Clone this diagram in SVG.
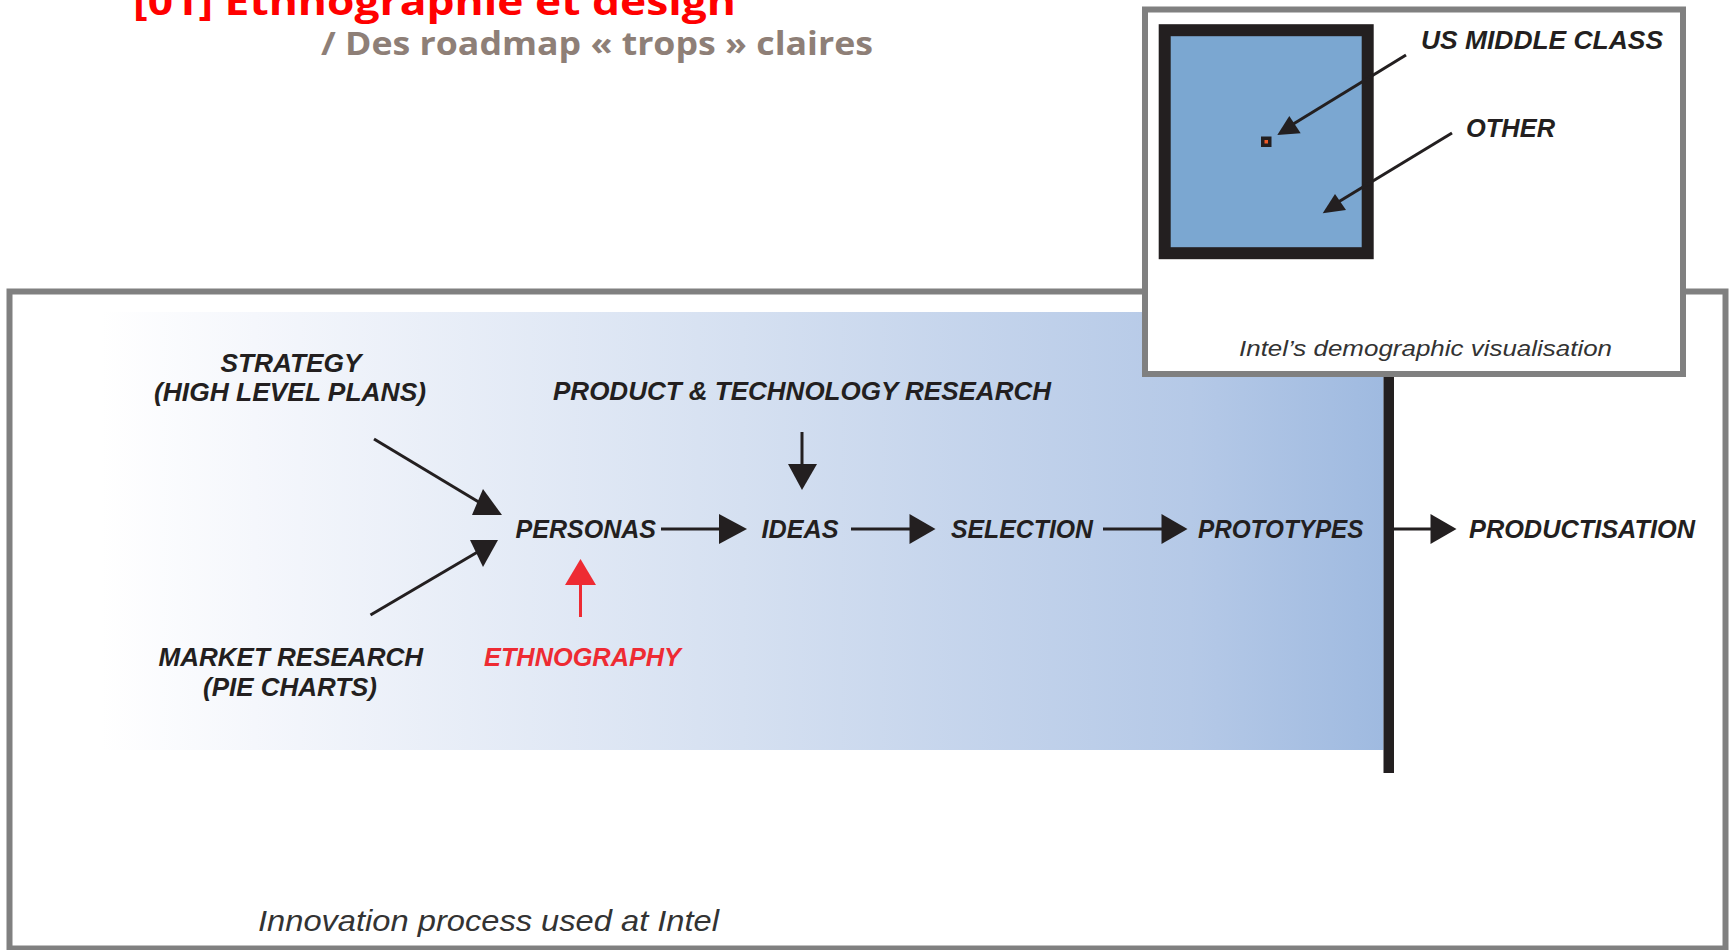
<svg xmlns="http://www.w3.org/2000/svg" width="1729" height="950" viewBox="0 0 1729 950">
<defs>
<linearGradient id="bg" gradientUnits="userSpaceOnUse" x1="101" y1="0" x2="1383" y2="0">
<stop offset="0" stop-color="#FFFFFF"/>
<stop offset="0.12" stop-color="#F5F7FC"/>
<stop offset="0.5" stop-color="#D5E0F1"/>
<stop offset="0.85" stop-color="#B5C9E7"/>
<stop offset="1" stop-color="#9FBAE0"/>
</linearGradient>
<style>
.frame{fill:#fff;stroke:#808080;stroke-width:6}
.lbl{font-family:"Liberation Sans",Arial,sans-serif;font-weight:bold;font-style:italic;font-size:26px;fill:#231F20}
.red{fill:#EE2B33}
.cap{font-family:"Liberation Sans",Arial,sans-serif;font-style:italic;fill:#333333}
.ln{stroke:#231F20;stroke-width:3;fill:none}
.hd{fill:#231F20}
.rln{stroke:#EE2B33;stroke-width:3;fill:none}
.rhd{fill:#EE2B33}
</style>
</defs>
<rect width="1729" height="950" fill="#fff"/>

<g id="title">
<text x="133" y="15" font-family="'Open Sans','Liberation Sans',sans-serif" font-weight="bold" font-size="38" fill="#FF0000" textLength="603" lengthAdjust="spacingAndGlyphs">[01] Ethnographie et design</text>
<text x="321" y="55" font-family="'Open Sans','Liberation Sans',sans-serif" font-weight="bold" font-size="32" fill="#8E7F77" textLength="552" lengthAdjust="spacingAndGlyphs">/ Des roadmap « trops » claires</text>
</g>

<g id="main-frame">
<rect class="frame" x="9.5" y="291.5" width="1716" height="657"/>
<rect x="101" y="312" width="1282.5" height="438" fill="url(#bg)"/>
<rect x="1383.5" y="300" width="10.5" height="473" fill="#231F20"/>
<text class="cap" x="258" y="930.5" font-size="30" textLength="461" lengthAdjust="spacingAndGlyphs">Innovation process used at Intel</text>
</g>

<g id="strategy"><text class="lbl" x="220.5" y="371.5" textLength="141" lengthAdjust="spacingAndGlyphs">STRATEGY</text>
<text class="lbl" x="154" y="401" textLength="272" lengthAdjust="spacingAndGlyphs">(HIGH LEVEL PLANS)</text></g>
<g id="market"><text class="lbl" x="158.5" y="665.5" textLength="264.5" lengthAdjust="spacingAndGlyphs">MARKET RESEARCH</text>
<text class="lbl" x="203" y="696" textLength="174" lengthAdjust="spacingAndGlyphs">(PIE CHARTS)</text></g>
<g id="ethnography"><text class="lbl red" x="484" y="665.5" textLength="197" lengthAdjust="spacingAndGlyphs">ETHNOGRAPHY</text></g>
<g id="personas"><text class="lbl" x="515.5" y="537.5" textLength="140.5" lengthAdjust="spacingAndGlyphs">PERSONAS</text></g>
<g id="research"><text class="lbl" x="553" y="400" textLength="498" lengthAdjust="spacingAndGlyphs">PRODUCT &amp; TECHNOLOGY RESEARCH</text></g>
<g id="ideas"><text class="lbl" x="761.5" y="537.5" textLength="77" lengthAdjust="spacingAndGlyphs">IDEAS</text></g>
<g id="selection"><text class="lbl" x="951" y="537.5" textLength="142" lengthAdjust="spacingAndGlyphs">SELECTION</text></g>
<g id="prototypes"><text class="lbl" x="1198" y="537.5" textLength="165.5" lengthAdjust="spacingAndGlyphs">PROTOTYPES</text></g>
<g id="productisation"><text class="lbl" x="1469" y="537.5" textLength="226" lengthAdjust="spacingAndGlyphs">PRODUCTISATION</text></g>

<g id="connectors">
<line class="ln" x1="374" y1="439" x2="482" y2="504"/>
<polygon class="hd" points="483,489 472,515 502,515"/>
<line class="ln" x1="370.5" y1="615" x2="481" y2="550"/>
<polygon class="hd" points="470,540 498,540 483,567"/>
<line class="ln" x1="802" y1="432" x2="802" y2="466"/>
<polygon class="hd" points="788,464 817,464 802,490"/>
<line class="rln" x1="580.5" y1="617" x2="580.5" y2="582"/>
<polygon class="rhd" points="565,585 596,585 580.5,559"/>
<line class="ln" x1="661" y1="529" x2="721" y2="529"/>
<polygon class="hd" points="719,514 747,529 719,544"/>
<line class="ln" x1="851" y1="529" x2="911" y2="529"/>
<polygon class="hd" points="909.5,514 935.5,529 909.5,544"/>
<line class="ln" x1="1103" y1="529" x2="1163" y2="529"/>
<polygon class="hd" points="1161.5,514 1187.5,529 1161.5,544"/>
<line class="ln" x1="1394" y1="529" x2="1432" y2="529"/>
<polygon class="hd" points="1430.5,514 1456.5,529 1430.5,544"/>
</g>

<g id="inset">
<rect class="frame" x="1145" y="9.5" width="538" height="364.5"/>
<rect x="1164.7" y="30.2" width="203" height="223" fill="#7BA7D1" stroke="#231F20" stroke-width="12"/>
<rect x="1261" y="136.5" width="10.5" height="10.5" fill="#231F20"/>
<rect x="1264.5" y="140" width="3.5" height="3.5" fill="#F05A28"/>
<text class="lbl" x="1421" y="48.5" textLength="242" lengthAdjust="spacingAndGlyphs">US MIDDLE CLASS</text>
<text class="lbl" x="1466" y="136.5" textLength="89" lengthAdjust="spacingAndGlyphs">OTHER</text>
<text class="cap" x="1239" y="355.5" font-size="22" textLength="373" lengthAdjust="spacingAndGlyphs">Intel’s demographic visualisation</text>
<line class="ln" x1="1406" y1="55" x2="1290" y2="126"/>
<polygon class="hd" points="1277.3,135 1289.3,116 1300.7,133.3"/>
<line class="ln" x1="1452" y1="133" x2="1335" y2="204"/>
<polygon class="hd" points="1322.7,213.3 1335,194 1346,210"/>
</g>
</svg>
